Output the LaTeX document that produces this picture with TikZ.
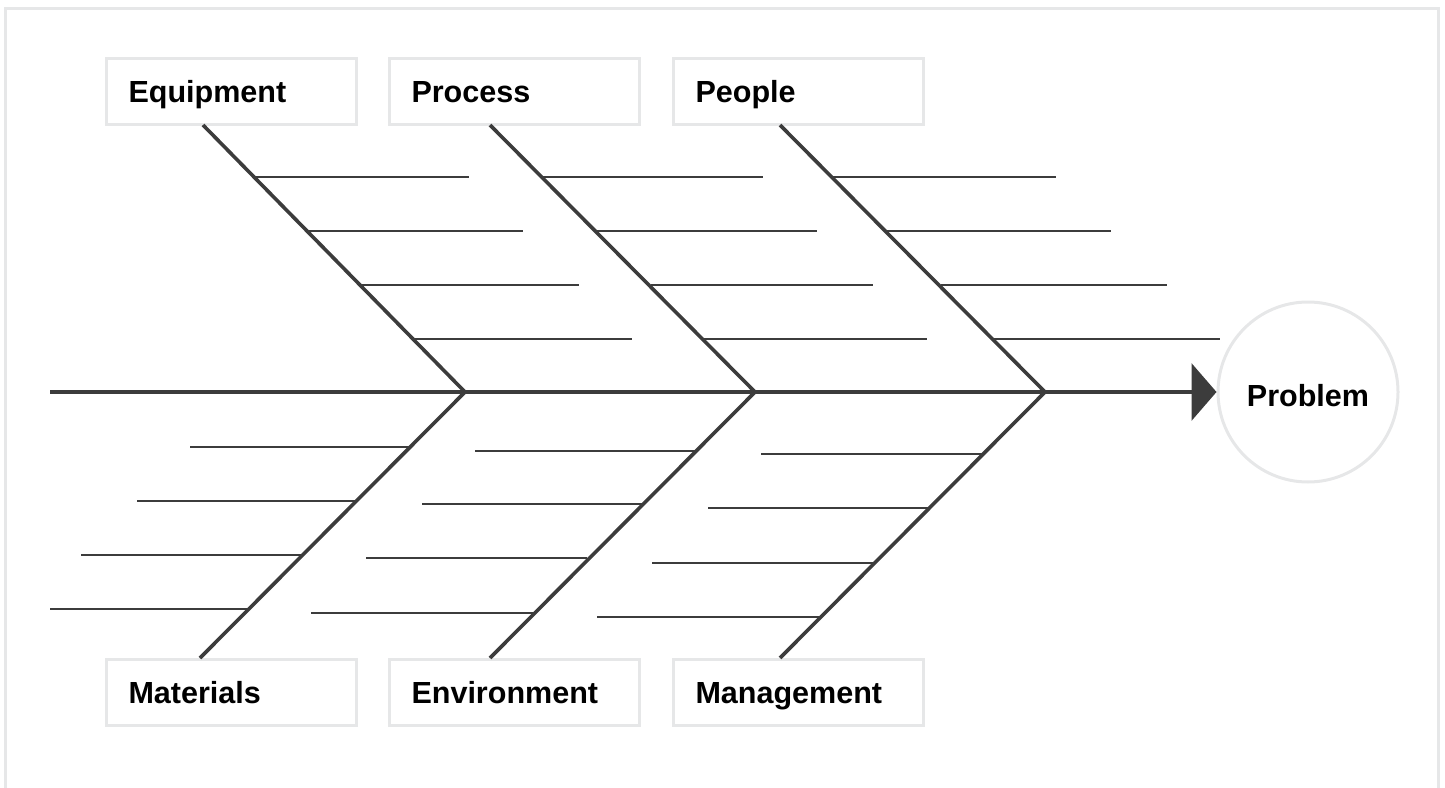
\documentclass[tikz,border=0pt]{standalone}
\usepackage{fontspec}
\setmainfont{Liberation Sans}
\usetikzlibrary{arrows.meta}
\definecolor{framegray}{HTML}{E6E7E8}
\definecolor{linegray}{HTML}{3C3C3C}
\tikzset{
  catbox/.style={rectangle, draw=framegray, line width=2.25pt, fill=white,
    anchor=north west, inner xsep=16.5pt, text width=154.5pt, align=left,
    minimum height=49.5pt, text height=16.5pt, text depth=0pt,
    font=\fontsize{22.9}{27}\selectfont\bfseries},
  bone/.style={draw=linegray, line width=2.7pt},
  rib/.style={draw=linegray, line width=2.1pt},
  thinrib/.style={draw=linegray, line width=1.4pt},
}
\begin{document}
\begin{tikzpicture}[x=0.75pt,y=-0.75pt]
\useasboundingbox (0,0) rectangle (1445,788);
% frame
\draw[framegray, line width=2.25pt] (5,800) -- (5,9) -- (1438,9) -- (1438,800);
% category boxes
\node[catbox] (equip) at (105,57) {Equipment};
\node[catbox] (proc) at (388,57) {Process};
\node[catbox] (people) at (672,57) {People};
\node[catbox] (mat) at (105,658) {Materials};
\node[catbox] (env) at (388,658) {Environment};
\node[catbox] (mgmt) at (672,658) {Management};
% problem
\node[circle, draw=framegray, line width=2.25pt, minimum size=135pt, inner sep=0pt,
  text height=21pt, text depth=0pt, font=\fontsize{22.9}{27}\selectfont\bfseries]
  (prob) at (1308,392) {Problem};
% joints and bone ends
\coordinate (j1) at (465,392);
\coordinate (j2) at (755,392);
\coordinate (j3) at (1045,392);
\coordinate (tail) at (50,392);
\coordinate (eqE) at (203,125);
\coordinate (prE) at (490,125);
\coordinate (peE) at (780,125);
\coordinate (maE) at (200,658);
\coordinate (enE) at (490,658);
\coordinate (mgE) at (780,658);
% spine
\draw[bone, -{Triangle[length=18.75pt,width=42.75pt]}, linegray] (tail) -- (prob.west);
% bones
\draw[bone] (eqE) -- (j1);
\draw[bone] (prE) -- (j2);
\draw[bone] (peE) -- (j3);
\draw[bone] (j1) -- (maE);
\draw[bone] (j2) -- (enE);
\draw[bone] (j3) -- (mgE);
% ribs: Equipment
\draw[rib] (253,177) -- (469,177);
\draw[rib] (306,231) -- (523,231);
\draw[rib] (360,285) -- (579,285);
\draw[rib] (413,339) -- (632,339);
% ribs: Process
\draw[rib] (543,177) -- (763,177);
\draw[rib] (597,231) -- (817,231);
\draw[rib] (651,285) -- (873,285);
\draw[rib] (704,339) -- (927,339);
% ribs: People
\draw[rib] (833,177) -- (1056,177);
\draw[rib] (887,231) -- (1111,231);
\draw[rib] (941,285) -- (1167,285);
\draw[rib] (994,339) -- (1220,339);
% ribs: Materials
\draw[rib] (190,447) -- (411,447);
\draw[rib] (137,501) -- (357,501);
\draw[rib] (81,555) -- (302,555);
\draw[rib] (50,609) -- (248,609);
% ribs: Environment
\draw[rib] (475,451) -- (696,451);
\draw[rib] (422,504) -- (642,504);
\draw[rib] (366,558) -- (587,558);
\draw[thinrib] (311,613) -- (533,613);
% ribs: Management
\draw[rib] (761,454) -- (982,454);
\draw[rib] (708,508) -- (928,508);
\draw[thinrib] (652,563) -- (873,563);
\draw[rib] (597,617) -- (820,617);
\end{tikzpicture}
\end{document}
